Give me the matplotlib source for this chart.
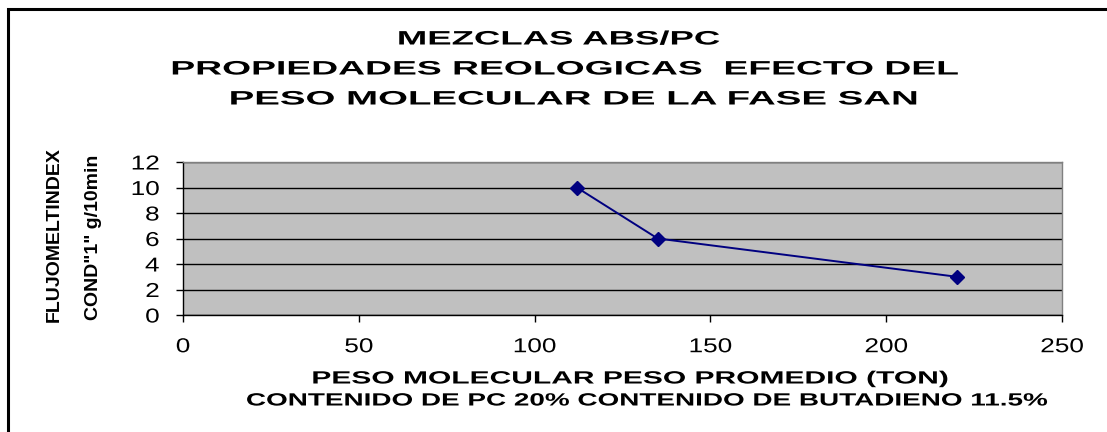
import matplotlib
matplotlib.use("Agg")
import matplotlib.pyplot as plt
from matplotlib.patches import Rectangle
from matplotlib.patheffects import AbstractPathEffect
from matplotlib.transforms import Affine2D

# Data: SAN phase molecular weight vs melt flow index
peso_molecular = [112, 135, 220]
fluidez = [10, 6, 3]
x_ticks = [0, 50, 100, 150, 200, 250]
y_ticks = [0, 2, 4, 6, 8, 10, 12]

titulo = ["MEZCLAS ABS/PC",
          "PROPIEDADES REOLOGICAS  EFECTO DEL",
          "PESO MOLECULAR DE LA FASE SAN"]
xlabel_lines = ["PESO MOLECULAR PESO PROMEDIO (TON)",
                "CONTENIDO DE PC 20% CONTENIDO DE BUTADIENO 11.5%"]
ylabel_lines = ["FLUJOMELTINDEX", "COND\"1\" g/10min"]

plt.rcParams["font.family"] = ["Liberation Sans", "DejaVu Sans"]


class Widen(AbstractPathEffect):
    """Stretch glyphs along the baseline, either by a factor or to a width in px."""

    def __init__(self, factor=None, width=None, anchor="center"):
        super().__init__()
        self.factor, self.width, self.anchor = factor, width, anchor

    def draw_path(self, renderer, gc, tpath, affine, rgbFace=None):
        ext = tpath.get_extents()
        if self.width is not None:
            a = abs(affine.get_matrix()[0, 0])
            sx = self.width / (ext.width * a)
        else:
            sx = self.factor
        if self.anchor == "left":
            x0 = ext.x0
        elif self.anchor == "right":
            x0 = ext.x1
        else:
            x0 = 0.5 * (ext.x0 + ext.x1)
        t = Affine2D().translate(-x0, 0).scale(sx, 1.0).translate(x0, 0)
        renderer.draw_path(gc, tpath, t + affine, rgbFace)


W, H = 1107, 432
fig = plt.figure(figsize=(W / 100, H / 100), dpi=100)
fig.patch.set_facecolor("white")


def px(x, y):
    return x / W, 1 - y / H


# Outer chart frame (only top and left edges fall inside the image)
fig.patches.append(Rectangle((7.5 / W, -0.1), 1.2, 1 - 8.5 / H + 0.1,
                             transform=fig.transFigure, fill=False,
                             edgecolor="black", linewidth=2.2))

ax = fig.add_axes([183 / W, 1 - 315 / H, (1062 - 183) / W, (315 - 162) / H])
ax.set_facecolor("#C0C0C0")
ax.set_xlim(0, 250)
ax.set_ylim(0, 12)
ax.set_xticks(x_ticks)
ax.set_yticks(y_ticks)
ax.yaxis.grid(True, color="black", linewidth=1.0)
ax.set_axisbelow(True)
for s in ("top", "right"):
    ax.spines[s].set_color("#808080")
    ax.spines[s].set_linewidth(1.0)
for s in ("left", "bottom"):
    ax.spines[s].set_color("black")
    ax.spines[s].set_linewidth(1.0)
ax.tick_params(axis="both", direction="out", length=5, width=1,
               labelsize=14.5, colors="black")
ax.tick_params(axis="x", pad=11)
ax.tick_params(axis="y", pad=12)
for lab in ax.get_xticklabels():
    lab.set_path_effects([Widen(factor=1.3, anchor="center")])
for lab in ax.get_yticklabels():
    lab.set_path_effects([Widen(factor=1.3, anchor="right")])

ax.plot(peso_molecular, fluidez, color="#000080", linewidth=1.4,
        marker="D", markersize=7.5, markerfacecolor="#000080",
        markeredgecolor="#000080", zorder=3)

# Title
title_pos = [(559, 40, 320), (565, 70, 785), (574, 100, 685)]
for line, (cx, cy, w) in zip(titulo, title_pos):
    t = fig.text(*px(cx, cy), line, ha="center", va="center",
                 fontsize=14, fontweight="bold")
    t.set_path_effects([Widen(width=w)])

# X axis caption
xlab_pos = [(630, 379, 634), (647, 401, 800)]
for line, (cx, cy, w) in zip(xlabel_lines, xlab_pos):
    t = fig.text(*px(cx, cy), line, ha="center", va="center",
                 fontsize=12.75, fontweight="bold")
    t.set_path_effects([Widen(width=w)])

# Y axis caption (two rotated lines)
fig.text(*px(59, 235), ylabel_lines[0], rotation=90, rotation_mode="anchor",
         ha="center", va="baseline", fontsize=14, fontweight="bold")
fig.text(*px(98, 237.5), ylabel_lines[1], rotation=90, rotation_mode="anchor",
         ha="center", va="baseline", fontsize=14, fontweight="bold")

fig.savefig("out.png", dpi=100)
